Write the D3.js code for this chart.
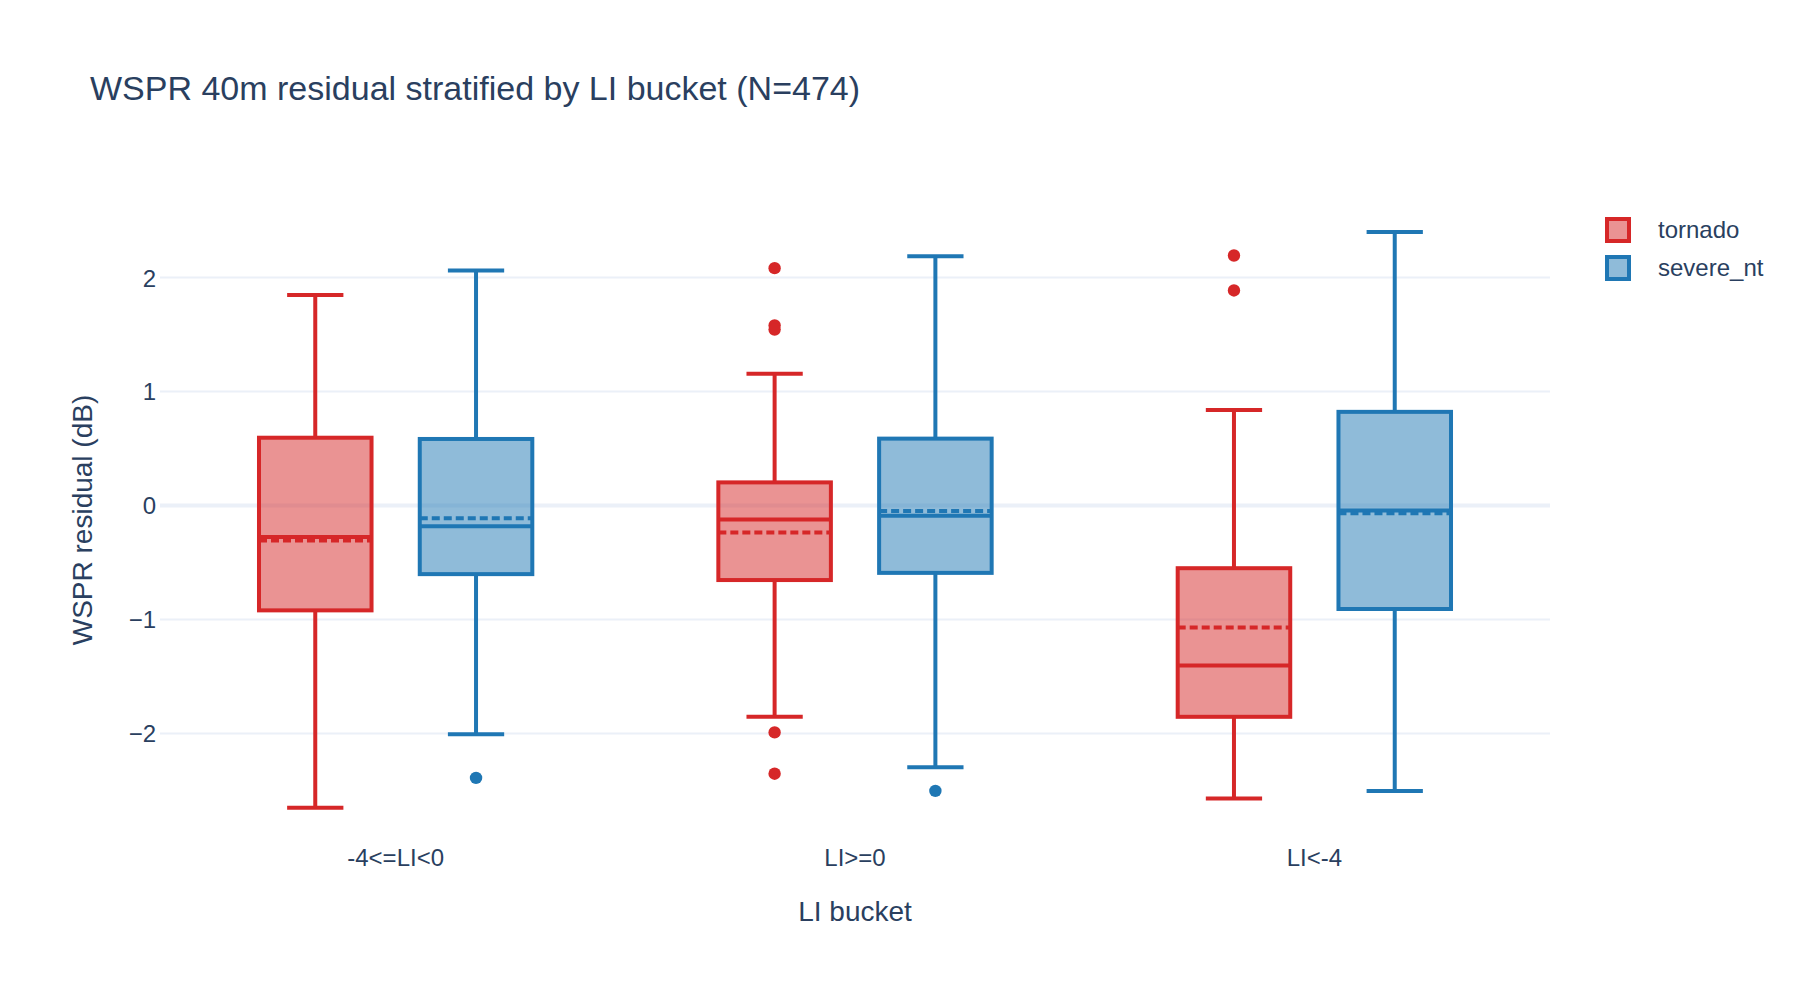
<!DOCTYPE html>
<html>
<head>
<meta charset="utf-8">
<script src="https://cdn.jsdelivr.net/npm/d3@7"></script>
<style>
  html, body { margin: 0; padding: 0; background: #fff; }
  svg { display: block; font-family: "Liberation Sans", Arial, sans-serif; }
</style>
</head>
<body>
<svg id="chart" width="1800" height="1000"></svg>
<script>
// ---- data ----
const categories = ["-4<=LI<0", "LI>=0", "LI<-4"];
const seriesNames = ["tornado", "severe_nt"];
const yTicks = [-2, -1, 0, 1, 2];

const tornadoMin     = [-2.652, -1.854, -2.571];
const tornadoQ1      = [-0.920, -0.654, -1.854];
const tornadoMedian  = [-0.277, -0.122, -1.404];
const tornadoMean    = [-0.307, -0.236, -1.071];
const tornadoQ3      = [0.595, 0.203, -0.550];
const tornadoMax     = [1.847, 1.156, 0.838];
const tornadoOutliers = [[], [2.083, 1.580, 1.544, -1.991, -2.353], [2.194, 1.887]];

const severeMin      = [-2.006, -2.297, -2.504];
const severeQ1       = [-0.602, -0.591, -0.908];
const severeMedian   = [-0.181, -0.089, -0.044];
const severeMean     = [-0.111, -0.048, -0.068];
const severeQ3       = [0.584, 0.587, 0.822];
const severeMax      = [2.062, 2.187, 2.401];
const severeOutliers = [[-2.390], [-2.504], []];

// ---- layout ----
const W = 1800, H = 1000;
const plot = { left: 160, right: 1550, top: 200, bottom: 840 };
const colors = { tornado: "#d62728", severe_nt: "#1f77b4" };
const fills = { tornado: "rgba(214,39,40,0.5)", severe_nt: "rgba(31,119,180,0.5)" };
const textColor = "#2a3f5f";
const gridColor = "#ebf0f8";
const lw = 4;

const series = [
  { name: "tornado", offset: -0.175, min: tornadoMin, q1: tornadoQ1, med: tornadoMedian, mean: tornadoMean, q3: tornadoQ3, max: tornadoMax, out: tornadoOutliers },
  { name: "severe_nt", offset: 0.175, min: severeMin, q1: severeQ1, med: severeMedian, mean: severeMean, q3: severeQ3, max: severeMax, out: severeOutliers }
];
const boxWidth = 0.245, capWidth = 0.1225;

const svg = d3.select("#chart");
svg.append("rect").attr("width", W).attr("height", H).attr("fill", "#fff");

const x = d3.scaleLinear().domain([-0.513, 2.513]).range([plot.left, plot.right]);
const y = d3.scaleLinear().domain([-2.935, 2.681]).range([plot.bottom, plot.top]);

// gridlines
const grid = svg.append("g");
grid.selectAll("line").data(yTicks).join("line")
  .attr("x1", plot.left).attr("x2", plot.right)
  .attr("y1", d => y(d)).attr("y2", d => y(d))
  .attr("stroke", gridColor)
  .attr("stroke-width", d => d === 0 ? 4 : 2);

// y axis labels
const yAxis = d3.axisLeft(y).tickValues(yTicks).tickSize(0).tickPadding(0)
  .tickFormat(d => d < 0 ? "\u2212" + Math.abs(d) : String(d));
const yg = svg.append("g").attr("transform", `translate(${plot.left - 4},0)`).call(yAxis);
yg.select(".domain").remove();
yg.selectAll("text").attr("font-size", 24).attr("fill", textColor)
  .attr("font-family", '"Liberation Sans", Arial, sans-serif').attr("dy", "0.35em");

// x axis labels
const xg = svg.append("g");
xg.selectAll("text").data(categories).join("text")
  .attr("x", (d, i) => x(i)).attr("y", 866)
  .attr("text-anchor", "middle").attr("font-size", 24).attr("fill", textColor)
  .text(d => d);

// boxes
series.forEach(s => {
  const g = svg.append("g");
  categories.forEach((c, i) => {
    const cx = x(i + s.offset);
    const x0 = x(i + s.offset - boxWidth / 2), x1 = x(i + s.offset + boxWidth / 2);
    const c0 = x(i + s.offset - capWidth / 2), c1 = x(i + s.offset + capWidth / 2);
    const col = colors[s.name];
    // whiskers
    g.append("line").attr("x1", cx).attr("x2", cx).attr("y1", y(s.q3[i])).attr("y2", y(s.max[i]))
      .attr("stroke", col).attr("stroke-width", lw);
    g.append("line").attr("x1", cx).attr("x2", cx).attr("y1", y(s.q1[i])).attr("y2", y(s.min[i]))
      .attr("stroke", col).attr("stroke-width", lw);
    g.append("line").attr("x1", c0).attr("x2", c1).attr("y1", y(s.max[i])).attr("y2", y(s.max[i]))
      .attr("stroke", col).attr("stroke-width", lw);
    g.append("line").attr("x1", c0).attr("x2", c1).attr("y1", y(s.min[i])).attr("y2", y(s.min[i]))
      .attr("stroke", col).attr("stroke-width", lw);
    // box
    g.append("rect").attr("x", x0).attr("width", x1 - x0)
      .attr("y", y(s.q3[i])).attr("height", y(s.q1[i]) - y(s.q3[i]))
      .attr("fill", fills[s.name]).attr("stroke", col).attr("stroke-width", lw);
    // median
    g.append("line").attr("x1", x0).attr("x2", x1).attr("y1", y(s.med[i])).attr("y2", y(s.med[i]))
      .attr("stroke", col).attr("stroke-width", lw);
    // mean
    g.append("line").attr("x1", x0).attr("x2", x1).attr("y1", y(s.mean[i])).attr("y2", y(s.mean[i]))
      .attr("stroke", col).attr("stroke-width", lw).attr("stroke-dasharray", "8,4");
    // outliers
    g.selectAll(null).data(s.out[i]).join("circle")
      .attr("cx", cx).attr("cy", d => y(d)).attr("r", 6.2).attr("fill", col);
  });
});

// title
svg.append("text").attr("x", 90).attr("y", 100)
  .attr("font-size", 34).attr("fill", textColor)
  .text("WSPR 40m residual stratified by LI bucket (N=474)");

// axis titles
svg.append("text").attr("x", (plot.left + plot.right) / 2).attr("y", 921)
  .attr("text-anchor", "middle").attr("font-size", 28).attr("fill", textColor)
  .text("LI bucket");
svg.append("text").attr("transform", `translate(92,${(plot.top + plot.bottom) / 2}) rotate(-90)`)
  .attr("text-anchor", "middle").attr("font-size", 28).attr("fill", textColor)
  .text("WSPR residual (dB)");

// legend
const legend = svg.append("g");
seriesNames.forEach((n, i) => {
  const cy = 230 + i * 38;
  legend.append("rect").attr("x", 1607).attr("y", cy - 11).attr("width", 22).attr("height", 22)
    .attr("fill", fills[n]).attr("stroke", colors[n]).attr("stroke-width", 4);
  legend.append("text").attr("x", 1658).attr("y", cy).attr("dy", "0.35em")
    .attr("font-size", 24).attr("fill", textColor).text(n);
});
</script>
</body>
</html>
